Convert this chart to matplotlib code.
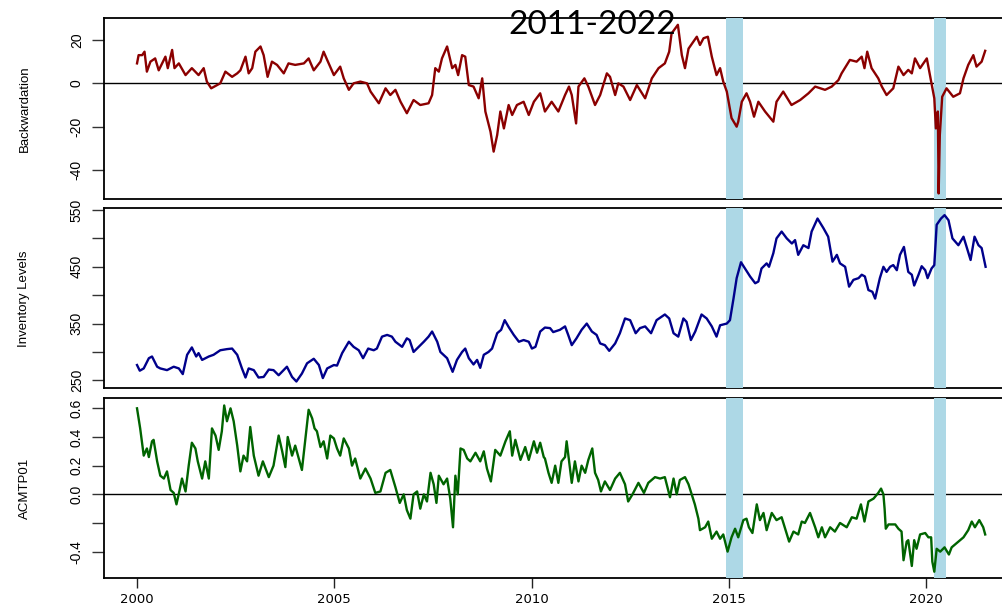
import matplotlib
matplotlib.use("Agg")
import matplotlib.pyplot as plt

# ---------------- data ----------------
title_text = "2011-2022"

backwardation_t = [
    2000.00, 2000.04, 2000.13, 2000.19, 2000.25, 2000.34, 2000.46, 2000.55, 2000.72, 2000.78,
    2000.89, 2000.95, 2001.06, 2001.23, 2001.39, 2001.56, 2001.69, 2001.77, 2001.88, 2002.03,
    2002.11, 2002.24, 2002.41, 2002.54, 2002.62, 2002.75, 2002.83, 2002.92, 2003.00, 2003.13,
    2003.21, 2003.31, 2003.42, 2003.55, 2003.72, 2003.84, 2004.01, 2004.23, 2004.35, 2004.48,
    2004.65, 2004.73, 2004.82, 2004.99, 2005.15, 2005.24, 2005.37, 2005.49, 2005.66, 2005.83,
    2005.92, 2006.13, 2006.30, 2006.42, 2006.55, 2006.68, 2006.84, 2007.01, 2007.18, 2007.39,
    2007.48, 2007.56, 2007.65, 2007.73, 2007.86, 2007.99, 2008.07, 2008.14, 2008.24, 2008.32,
    2008.41, 2008.53, 2008.66, 2008.75, 2008.83, 2008.96, 2009.04, 2009.13, 2009.21, 2009.30,
    2009.42, 2009.51, 2009.63, 2009.80, 2009.93, 2010.06, 2010.22,
    2010.34, 2010.51, 2010.68, 2010.85, 2010.95, 2011.02, 2011.13, 2011.19, 2011.34, 2011.44,
    2011.61, 2011.74, 2011.91, 2011.99, 2012.12, 2012.20, 2012.33, 2012.50, 2012.67, 2012.88,
    2013.05, 2013.22, 2013.38, 2013.49, 2013.55, 2013.71, 2013.81, 2013.89, 2013.98, 2014.19,
    2014.27, 2014.36, 2014.47, 2014.57, 2014.69, 2014.78, 2014.86, 2014.95, 2015.07, 2015.20,
    2015.24, 2015.33, 2015.45, 2015.54, 2015.64, 2015.75, 2015.92, 2016.13, 2016.21, 2016.38,
    2016.59, 2016.81, 2017.02, 2017.19, 2017.44, 2017.61, 2017.78, 2017.86, 2018.07, 2018.24,
    2018.37, 2018.44, 2018.51, 2018.62, 2018.79, 2018.88, 2019.00, 2019.17, 2019.30, 2019.43,
    2019.55, 2019.64, 2019.72, 2019.85, 2020.02, 2020.14, 2020.21, 2020.25, 2020.30, 2020.32,
    2020.35, 2020.41, 2020.52, 2020.69, 2020.86, 2020.95, 2021.07, 2021.20, 2021.28, 2021.41,
    2021.50,
]
backwardation = [
    9.2, 13.0, 13.0, 14.6, 5.4, 10.0, 11.5, 6.0, 12.3, 7.0,
    15.4, 7.0, 9.2, 3.8, 7.0, 3.8, 7.0, 0.8, -2.3, -0.8,
    0.0, 5.4, 3.0, 4.6, 6.0, 12.3, 4.6, 7.0, 14.6, 17.0,
    13.0, 3.0, 10.0, 8.5, 4.6, 9.2, 8.5, 9.2, 11.5, 6.0,
    10.0, 14.6, 10.8, 3.8, 7.7, 2.3, -3.0, 0.0, 0.8, 0.0,
    -3.8, -9.2, -2.3, -5.4, -3.0, -8.5, -13.8, -7.7, -10.0, -9.2,
    -5.4, 7.0, 5.4, 11.5, 17.0, 7.0, 8.5, 3.8, 13.0, 12.3,
    -0.8, -1.5, -6.9, 2.3, -13.0, -22.3, -31.5, -23.8, -13.0, -20.8,
    -10.0, -14.6, -10.0, -8.5, -14.6, -8.5, -4.6,
    -13.0, -8.5, -13.0, -5.4, -1.5, -5.4, -18.5, -1.5, 2.3, -1.5,
    -10.0, -5.4, 4.6, 3.0, -5.4, 0.0, -1.5, -7.7, -0.8, -6.9,
    2.3, 7.0, 9.2, 14.6, 23.0, 27.0, 13.0, 7.0, 16.0, 21.5,
    17.7, 20.8, 21.5, 12.3, 3.8, 7.0, 0.8, -3.8, -16.0, -20.0,
    -17.7, -8.5, -4.6, -8.5, -15.4, -8.5, -13.0, -17.7, -8.5, -3.8,
    -10.0, -7.7, -4.6, -1.5, -3.0, -1.5, 1.5, 4.6, 10.8, 10.0,
    12.3, 7.0, 14.6, 7.0, 2.3, -1.5, -5.4, -2.3, 7.7, 3.8,
    6.2, 4.6, 11.5, 7.0, 11.5, 0.0, -6.9, -20.8, -13.0, -50.8,
    -23.8, -6.2, -2.3, -6.2, -4.6, 2.3, 8.5, 13.0, 7.7, 10.0,
    15.0,
]

inventory_t = [
    2000.00, 2000.07, 2000.17, 2000.30, 2000.38, 2000.51, 2000.59, 2000.76, 2000.93, 2001.06,
    2001.16, 2001.27, 2001.39, 2001.50, 2001.56, 2001.65, 2001.82, 2001.94, 2002.11, 2002.28,
    2002.41, 2002.54, 2002.66, 2002.75, 2002.83, 2002.96, 2003.08, 2003.21, 2003.34, 2003.46,
    2003.59, 2003.80, 2003.93, 2004.04, 2004.18, 2004.31, 2004.48, 2004.61, 2004.71, 2004.82,
    2004.99, 2005.07, 2005.20, 2005.37, 2005.49, 2005.62, 2005.73, 2005.86, 2006.00, 2006.08,
    2006.21, 2006.34, 2006.46, 2006.55, 2006.72, 2006.84, 2006.91, 2007.01, 2007.14, 2007.27,
    2007.39, 2007.48, 2007.61, 2007.69, 2007.86, 2008.00, 2008.11, 2008.24, 2008.32, 2008.41,
    2008.53, 2008.62, 2008.70, 2008.79, 2008.91, 2009.00, 2009.13, 2009.23, 2009.32, 2009.42,
    2009.55, 2009.68, 2009.80, 2009.93, 2010.01, 2010.10, 2010.22,
    2010.34, 2010.47, 2010.55, 2010.72, 2010.85, 2010.93, 2011.02, 2011.14, 2011.27, 2011.40,
    2011.53, 2011.65, 2011.74, 2011.86, 2011.97, 2012.12, 2012.24, 2012.37, 2012.50, 2012.64,
    2012.75, 2012.88, 2013.03, 2013.17, 2013.38, 2013.49, 2013.60, 2013.72, 2013.85, 2013.93,
    2014.04, 2014.15, 2014.31, 2014.44, 2014.57, 2014.69, 2014.78, 2014.95, 2015.03, 2015.12,
    2015.20, 2015.31, 2015.41, 2015.54, 2015.67, 2015.75, 2015.83, 2015.96, 2016.02, 2016.13,
    2016.21, 2016.34, 2016.47, 2016.60, 2016.68, 2016.76, 2016.89, 2017.02, 2017.10, 2017.25,
    2017.40, 2017.52, 2017.63, 2017.74, 2017.82, 2017.95, 2018.05, 2018.16, 2018.29, 2018.37,
    2018.45, 2018.54, 2018.64, 2018.71, 2018.83, 2018.92, 2019.00, 2019.09, 2019.17, 2019.26,
    2019.34, 2019.44, 2019.55, 2019.64, 2019.70, 2019.81, 2019.89, 2019.98, 2020.04, 2020.14,
    2020.21, 2020.27, 2020.38, 2020.47, 2020.57, 2020.67, 2020.82, 2020.95, 2021.03, 2021.13,
    2021.23, 2021.33, 2021.41, 2021.51,
]
inventory = [
    277, 267, 271, 289, 292, 274, 271, 268, 274, 271,
    261, 295, 308, 292, 298, 286, 292, 295, 303, 305,
    306, 295, 271, 255, 271, 268, 255, 256, 269, 268,
    259, 274, 256, 248, 262, 280, 288, 277, 254, 271,
    277, 276, 298, 318, 309, 303, 289, 306, 303, 306,
    327, 330, 327, 318, 309, 324, 321, 300, 309, 318,
    327, 336, 318, 300, 289, 265, 286, 300, 306, 289,
    278, 286, 272, 295, 300, 306, 333, 339, 356, 344,
    330, 318, 321, 318, 306, 309, 336,
    343, 342, 335, 339, 345, 330, 312, 324, 339, 350,
    336, 330, 315, 312, 302, 315, 333, 359, 356, 333,
    342, 345, 333, 356, 366, 359, 333, 327, 359, 353,
    321, 336, 366, 359, 345, 327, 347, 350, 356, 394,
    430, 458, 447, 433, 421, 424, 447, 456, 450, 474,
    500, 512, 500, 491, 497, 471, 488, 483, 512, 535,
    518, 503, 459, 471, 456, 450, 415, 427, 430, 436,
    433, 409, 406, 394, 430, 450, 441, 450, 453, 444,
    471, 485, 441, 436, 417, 436, 451, 444, 430, 447,
    453, 524, 535, 541, 532, 500, 488, 503, 485, 462,
    503, 488, 483, 450,
]

acm_t = [
    2000.00, 2000.08, 2000.17, 2000.25, 2000.30, 2000.38, 2000.42, 2000.51, 2000.59, 2000.68,
    2000.76, 2000.85, 2000.93, 2001.00, 2001.08, 2001.14, 2001.23, 2001.31, 2001.39, 2001.48,
    2001.54, 2001.65, 2001.73, 2001.82, 2001.90, 2001.99, 2002.07, 2002.15, 2002.21, 2002.28,
    2002.37, 2002.45, 2002.54, 2002.62, 2002.70, 2002.79, 2002.87, 2002.96, 2003.08, 2003.19,
    2003.34, 2003.46, 2003.59, 2003.68, 2003.76, 2003.82, 2003.93, 2004.01, 2004.10, 2004.18,
    2004.27, 2004.35, 2004.44, 2004.50, 2004.56, 2004.65, 2004.73, 2004.82, 2004.90, 2004.99,
    2005.07, 2005.15, 2005.24, 2005.37, 2005.45, 2005.53, 2005.66, 2005.79, 2005.92, 2006.04,
    2006.17, 2006.30, 2006.42, 2006.55, 2006.66, 2006.76, 2006.84, 2006.93, 2007.01, 2007.10,
    2007.18, 2007.27, 2007.35, 2007.44, 2007.52, 2007.59, 2007.65, 2007.77, 2007.86, 2007.94,
    2008.01, 2008.07, 2008.13, 2008.20, 2008.28, 2008.37, 2008.45, 2008.58, 2008.70, 2008.79,
    2008.87, 2008.97, 2009.08, 2009.21, 2009.34, 2009.45, 2009.51, 2009.59, 2009.72, 2009.84,
    2009.93, 2010.06, 2010.14, 2010.22, 2010.31,
    2010.34, 2010.43, 2010.51, 2010.60, 2010.68, 2010.76, 2010.85, 2010.89, 2010.98, 2011.02,
    2011.10, 2011.19, 2011.27, 2011.36, 2011.44, 2011.54, 2011.61, 2011.69, 2011.76, 2011.86,
    2011.99, 2012.12, 2012.24, 2012.37, 2012.45, 2012.56, 2012.71, 2012.85, 2012.96, 2013.13,
    2013.26, 2013.38, 2013.51, 2013.60, 2013.68, 2013.76, 2013.89, 2013.98, 2014.06, 2014.14,
    2014.23, 2014.27, 2014.40, 2014.48, 2014.57, 2014.69, 2014.78, 2014.86, 2014.97, 2015.07,
    2015.16, 2015.24, 2015.37, 2015.45, 2015.51, 2015.60, 2015.71, 2015.79, 2015.88, 2015.96,
    2016.09, 2016.21, 2016.34, 2016.43, 2016.53, 2016.64, 2016.76, 2016.85, 2016.93, 2017.06,
    2017.19, 2017.27, 2017.36, 2017.44, 2017.57, 2017.69, 2017.82, 2017.99, 2018.12, 2018.24,
    2018.35, 2018.44, 2018.54, 2018.67, 2018.79, 2018.86, 2018.92, 2018.95, 2018.98, 2019.05,
    2019.22, 2019.30, 2019.38, 2019.43, 2019.51, 2019.55, 2019.64, 2019.70, 2019.76, 2019.85,
    2019.98, 2020.06, 2020.13, 2020.16, 2020.21, 2020.27, 2020.36, 2020.47, 2020.58, 2020.65,
    2020.82, 2020.95, 2021.07, 2021.16, 2021.24, 2021.35, 2021.45, 2021.50,
]
acm = [
    0.60, 0.46, 0.27, 0.32, 0.26, 0.37, 0.38, 0.23, 0.13, 0.11,
    0.16, 0.03, 0.01, -0.07, 0.03, 0.11, 0.02, 0.20, 0.36, 0.32,
    0.23, 0.11, 0.23, 0.11, 0.46, 0.41, 0.31, 0.44, 0.62, 0.51,
    0.60, 0.51, 0.34, 0.16, 0.27, 0.23, 0.47, 0.27, 0.13, 0.23,
    0.12, 0.20, 0.41, 0.30, 0.19, 0.40, 0.27, 0.34, 0.25, 0.17,
    0.39, 0.59, 0.53, 0.46, 0.44, 0.33, 0.37, 0.25, 0.41, 0.39,
    0.32, 0.27, 0.39, 0.32, 0.20, 0.25, 0.11, 0.18, 0.11, 0.01,
    0.02, 0.15, 0.17, 0.05, -0.06, 0.00, -0.11, -0.17, 0.00, 0.02,
    -0.10, 0.00, -0.05, 0.15, 0.07, -0.06, 0.13, 0.07, 0.11, -0.03,
    -0.23, 0.13, 0.00, 0.32, 0.31, 0.25, 0.23, 0.29, 0.23, 0.30,
    0.18, 0.09, 0.31, 0.27, 0.37, 0.44, 0.27, 0.38, 0.24, 0.33,
    0.24, 0.37, 0.29, 0.36, 0.26,
    0.25, 0.15, 0.08, 0.20, 0.08, 0.23, 0.26, 0.37, 0.17, 0.08,
    0.23, 0.09, 0.20, 0.15, 0.24, 0.32, 0.15, 0.10, 0.02, 0.09,
    0.03, 0.11, 0.15, 0.07, -0.05, 0.00, 0.08, 0.01, 0.08, 0.12,
    0.11, 0.12, -0.02, 0.11, 0.00, 0.10, 0.12, 0.07, 0.00, -0.07,
    -0.17, -0.25, -0.23, -0.19, -0.31, -0.26, -0.31, -0.28, -0.40, -0.30,
    -0.24, -0.30, -0.18, -0.17, -0.23, -0.27, -0.07, -0.18, -0.13, -0.25,
    -0.13, -0.18, -0.16, -0.24, -0.33, -0.26, -0.28, -0.19, -0.20, -0.13,
    -0.23, -0.30, -0.23, -0.30, -0.23, -0.26, -0.20, -0.23, -0.16, -0.17,
    -0.07, -0.19, -0.05, -0.03, 0.01, 0.04, 0.00, -0.10, -0.24, -0.21,
    -0.21, -0.24, -0.26, -0.46, -0.33, -0.32, -0.50, -0.32, -0.38, -0.28,
    -0.27, -0.30, -0.30, -0.47, -0.54, -0.38, -0.40, -0.37, -0.42, -0.37,
    -0.33, -0.30, -0.25, -0.19, -0.23, -0.18, -0.23, -0.28,
]

shaded_periods = [(2014.93, 2015.35), (2020.19, 2020.50)]
year_ticks = [2000, 2005, 2010, 2015, 2020]

panels = [
    dict(t=backwardation_t, y=backwardation, label="Backwardation", color="#8B0000",
         ylim=(-53.5, 30.0), ticks=[-40, -20, 0, 20],
         ticklabels=["-40", "-20", "0", "20"], zero_line=True),
    dict(t=inventory_t, y=inventory, label="Inventory Levels", color="#00008B",
         ylim=(236.0, 553.0), ticks=[250, 300, 350, 400, 450, 500, 550],
         ticklabels=["250", "", "350", "", "450", "", "550"], zero_line=False),
    dict(t=acm_t, y=acm, label="ACMTP01", color="#006400",
         ylim=(-0.586, 0.670), ticks=[-0.4, -0.2, 0.0, 0.2, 0.4, 0.6],
         ticklabels=["-0.4", "", "0.0", "0.2", "0.4", "0.6"], zero_line=True),
]

# ---------------- layout ----------------
plt.rcParams["axes.unicode_minus"] = False
W, H = 1002, 608
fig = plt.figure(figsize=(W / 100, H / 100), dpi=100)
fig.patch.set_facecolor("white")

# panel boxes in pixels: left, top, right, bottom (the frame runs past the right edge)
boxes = [(104, 18.3, 1019, 199.3), (104, 208.3, 1019, 388.3), (104, 398.3, 1019, 578.3)]
xlim = (1999.163, 2022.357)

for i, (p, (l, t, r, b)) in enumerate(zip(panels, boxes)):
    ax = fig.add_axes([l / W, 1 - b / H, (r - l) / W, (b - t) / H])
    ax.plot(p["t"], p["y"], color=p["color"], lw=1.7, zorder=4, solid_joinstyle="round")
    if p["zero_line"]:
        ax.axhline(0, color="black", lw=1.0, zorder=2)
    for a, z in shaded_periods:
        ax.axvspan(a, z, color="#ADD8E6", lw=0, zorder=3)
    ax.set_xlim(*xlim)
    ax.set_ylim(*p["ylim"])
    for s in ax.spines.values():
        s.set_color("black")
        s.set_linewidth(1.3)
        s.set_zorder(2.5)
    ax.set_yticks(p["ticks"])
    ax.set_yticklabels(p["ticklabels"], family="Liberation Sans", fontsize=10,
                       rotation=90, va="center")
    ax.tick_params(axis="y", direction="out", length=8.5, width=1.0, pad=6,
                   color="#333333")
    ax.set_ylabel(p["label"], family="Liberation Sans", fontsize=9.5, va="center")
    ax.yaxis.set_label_coords((24.5 - l) / (r - l), 0.5)
    if i < 2:
        ax.tick_params(axis="x", bottom=False, labelbottom=False)
    else:
        ax.set_xticks(year_ticks)
        ax.set_xticklabels([str(v) for v in year_ticks], family="DejaVu Sans", fontsize=9.5)
        ax.tick_params(axis="x", direction="out", length=7.5, width=1.0, pad=3,
                       color="#222222")

fig.text(592.5 / W, 1 - 34 / H, title_text, family="Lato", fontsize=24,
         ha="center", va="baseline", color="black", zorder=10)

fig.savefig("out.png", dpi=100, facecolor="white")
